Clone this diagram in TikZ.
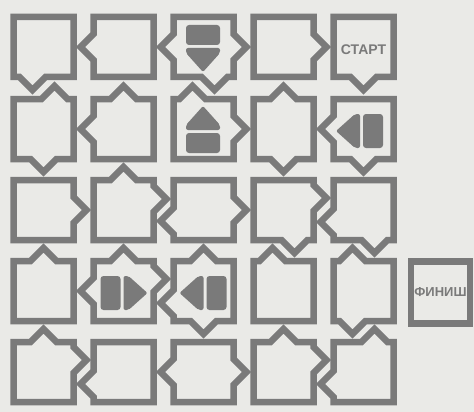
\documentclass[tikz,border=0pt]{standalone}
\usepackage{fontspec}
\setmainfont{Liberation Sans}
\definecolor{mazegray}{RGB}{122,122,122}
\definecolor{paper}{RGB}{234,234,231}
\begin{document}
\begin{tikzpicture}[x=1pt, y=-1pt, font=\bfseries]
        \tikzset{wall/.style={draw=mazegray, line width=6.5pt, line join=miter},
            blot/.style={fill=mazegray},
            north tip/.code={\def\nOff{#1}\def\nDep{13}},
            east tip/.code={\def\eOff{#1}\def\eDep{13}},
            south tip/.code={\def\sOff{#1}\def\sDep{13}},
            west tip/.code={\def\wOff{#1}\def\wDep{13}},
            cell/.pic={\coordinate (-c) at (0,0);
                \draw[wall] (-30,-30) -- (\nOff-13,-30) -- (\nOff,-30-\nDep) -- (\nOff+13,-30) -- (30,-30)
                    -- (30,\eOff-13) -- (30+\eDep,\eOff) -- (30,\eOff+13) -- (30,30)
                    -- (\sOff+13,30) -- (\sOff,30+\sDep) -- (\sOff-13,30) -- (-30,30)
                    -- (-30,\wOff+13) -- (-30-\wDep,\wOff) -- (-30,\wOff-13) -- cycle;},
            pair/.pic={\coordinate (-c) at (0,0);
                \fill[blot, rounded corners=3pt] (-23,-17) rectangle (-3,17);
                \fill[blot, rounded corners=2pt] (0,-17) -- (5,-17) -- (24,0) -- (5,17) -- (0,17) -- cycle;},
            goalbox/.style={draw=mazegray, line width=6.5pt, minimum width=59pt, minimum height=62pt, inner sep=0pt,
                text=mazegray, font=\fontsize{13}{13}\selectfont\bfseries}}
        \def\nOff{0}\def\nDep{0}\def\eOff{0}\def\eDep{0}
        \def\sOff{0}\def\sDep{0}\def\wOff{0}\def\wDep{0}
        \useasboundingbox (0,0) rectangle (474,412);
        \fill[paper] (0,0) rectangle (474,412);

        \pic[south tip=-11] (c11) at (43.5,47) {cell};
        \pic[west tip=0] (c12) at (123.5,47) {cell};
        \pic[west tip=0, east tip=0, south tip=11] (c13) at (203.5,47) {cell};
        \pic[east tip=0] (c14) at (283.5,47) {cell};
        \pic[south tip=0] (c15) at (363.5,47) {cell};

        \pic[north tip=11, south tip=0] (c21) at (43.5,129) {cell};
        \pic[north tip=0, west tip=0] (c22) at (123.5,129) {cell};
        \pic[north tip=-11, east tip=0] (c23) at (203.5,129) {cell};
        \pic[north tip=0, south tip=0] (c24) at (283.5,129) {cell};
        \pic[west tip=0, south tip=0] (c25) at (363.5,129) {cell};

        \pic[east tip=0] (c31) at (43.5,210) {cell};
        \pic[north tip=0, east tip=-11] (c32) at (123.5,210) {cell};
        \pic[west tip=11, east tip=0] (c33) at (203.5,210) {cell};
        \pic[east tip=-12, south tip=11] (c34) at (283.5,210) {cell};
        \pic[west tip=12, south tip=11] (c35) at (363.5,210) {cell};

        \pic[north tip=0] (c41) at (43.5,291) {cell};
        \pic[north tip=0, west tip=0, east tip=-12] (c42) at (123.5,291) {cell};
        \pic[north tip=0, west tip=12, south tip=0] (c43) at (203.5,291) {cell};
        \pic[north tip=-11] (c44) at (283.5,291) {cell};
        \pic[north tip=-11, south tip=-11] (c45) at (363.5,291) {cell};

        \pic[north tip=0, east tip=-12] (c51) at (43.5,372) {cell};
        \pic[west tip=12] (c52) at (123.5,372) {cell};
        \pic[west tip=0, east tip=0] (c53) at (203.5,372) {cell};
        \pic[north tip=0, east tip=-12] (c54) at (283.5,372) {cell};
        \pic[north tip=11, west tip=12] (c55) at (363.5,372) {cell};

        \pic[rotate=-90] (down) at (203,48) {pair};
        \pic[rotate=90] (up) at (203,130) {pair};
        \pic[rotate=180] (back1) at (360,131) {pair};
        \pic (fwd) at (123.5,293) {pair};
        \pic[rotate=180] (back2) at (203.5,293) {pair};

        \node[text=mazegray, font=\fontsize{14}{14}\selectfont\bfseries] (start) at (363.5,50) {СТАРТ};
        \node[goalbox] (finish) at (440.5,292.5) {ФИНИШ};
\end{tikzpicture}
\end{document}
